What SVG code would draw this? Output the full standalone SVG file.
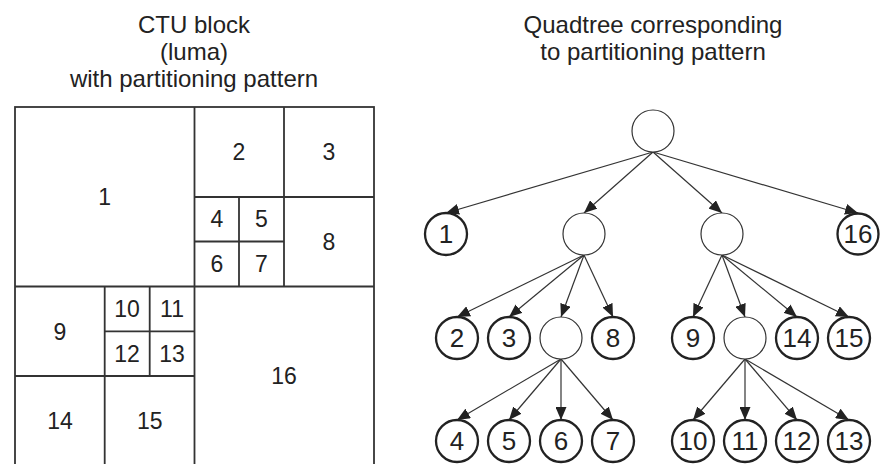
<svg xmlns="http://www.w3.org/2000/svg" width="880" height="464" viewBox="0 0 880 464">
  <style>
    .title { font-family: "Liberation Sans", Arial, sans-serif; font-size: 24px; fill: #222; text-anchor: middle; }
    .cell { font-family: "Liberation Sans", Arial, sans-serif; font-size: 23px; fill: #222; text-anchor: middle; }
    .grid { fill: none; stroke: #333; stroke-width: 1.8; }
    .leaf circle { fill: #fff; stroke: #222; stroke-width: 2.3; }
    .inner circle { fill: #fff; stroke: #333; stroke-width: 1.2; }
    .leaf text { font-family: "Liberation Sans", Arial, sans-serif; font-size: 26px; fill: #222; text-anchor: middle; }
    .edge { stroke: #333; stroke-width: 1.2; fill: none; marker-end: url(#arrow); }
  </style>
  <defs>
    <marker id="arrow" viewBox="0 0 13 11" refX="13" refY="5.5" markerWidth="13" markerHeight="11" markerUnits="userSpaceOnUse" orient="auto">
      <path d="M0,0 L13,5.5 L0,11 z" fill="#222"/>
    </marker>
  </defs>

  <rect width="880" height="464" fill="#fff"/>

  <!-- Titles -->
  <text class="title" x="194" y="33">CTU block</text>
  <text class="title" x="194" y="60">(luma)</text>
  <text class="title" x="194" y="87">with partitioning pattern</text>
  <text class="title" x="653" y="33">Quadtree corresponding</text>
  <text class="title" x="653" y="60">to partitioning pattern</text>

  <!-- CTU partitioning grid -->
  <g id="ctu-block">
    <rect class="grid" x="15" y="107" width="359" height="359"/>
    <path class="grid" d="M194.5,107 V466 M15,286.5 H374
      M284,107 V286.5 M194.5,197 H374
      M239,197 V286.5 M194.5,241.5 H284
      M104.7,286.5 V466 M15,376 H194.5
      M149.7,286.5 V376 M104.7,331.3 H194.5"/>
    <text class="cell" x="104.7" y="205">1</text>
    <text class="cell" x="239" y="160">2</text>
    <text class="cell" x="329" y="160">3</text>
    <text class="cell" x="217" y="227">4</text>
    <text class="cell" x="261.5" y="227">5</text>
    <text class="cell" x="217" y="272">6</text>
    <text class="cell" x="261.5" y="272">7</text>
    <text class="cell" x="329" y="250">8</text>
    <text class="cell" x="60" y="340">9</text>
    <text class="cell" x="127" y="317">10</text>
    <text class="cell" x="172" y="317">11</text>
    <text class="cell" x="127" y="362">12</text>
    <text class="cell" x="172" y="362">13</text>
    <text class="cell" x="60" y="429">14</text>
    <text class="cell" x="149.7" y="429">15</text>
    <text class="cell" x="284" y="384">16</text>
  </g>

  <!-- Quadtree connectors -->
  <g id="connectors">
    <line class="edge" x1="653" y1="152" x2="446" y2="213"/>
    <line class="edge" x1="653" y1="152" x2="584" y2="213"/>
    <line class="edge" x1="653" y1="152" x2="722" y2="213"/>
    <line class="edge" x1="653" y1="152" x2="858" y2="213"/>

    <line class="edge" x1="584" y1="255" x2="457" y2="317"/>
    <line class="edge" x1="584" y1="255" x2="509" y2="317"/>
    <line class="edge" x1="584" y1="255" x2="561" y2="317"/>
    <line class="edge" x1="584" y1="255" x2="613" y2="317"/>

    <line class="edge" x1="722" y1="255" x2="693" y2="317"/>
    <line class="edge" x1="722" y1="255" x2="745" y2="317"/>
    <line class="edge" x1="722" y1="255" x2="797" y2="317"/>
    <line class="edge" x1="722" y1="255" x2="849" y2="317"/>

    <line class="edge" x1="561" y1="359" x2="457" y2="420"/>
    <line class="edge" x1="561" y1="359" x2="509" y2="420"/>
    <line class="edge" x1="561" y1="359" x2="561" y2="420"/>
    <line class="edge" x1="561" y1="359" x2="613" y2="420"/>

    <line class="edge" x1="745" y1="359" x2="693" y2="420"/>
    <line class="edge" x1="745" y1="359" x2="745" y2="420"/>
    <line class="edge" x1="745" y1="359" x2="797" y2="420"/>
    <line class="edge" x1="745" y1="359" x2="849" y2="420"/>
  </g>

  <!-- Quadtree nodes -->
  <g id="root" class="inner"><circle cx="653" cy="131" r="21"/></g>
  <g id="node-a" class="inner"><circle cx="584" cy="234" r="21"/></g>
  <g id="node-b" class="inner"><circle cx="722" cy="234" r="21"/></g>
  <g id="node-c" class="inner"><circle cx="561" cy="338" r="21"/></g>
  <g id="node-d" class="inner"><circle cx="745" cy="338" r="21"/></g>

  <g id="leaf-1" class="leaf"><circle cx="446" cy="234" r="21"/><text x="446" y="243.3">1</text></g>
  <g id="leaf-16" class="leaf"><circle cx="858" cy="234" r="20.5"/><text x="858" y="243.3">16</text></g>
  <g id="leaf-2" class="leaf"><circle cx="457" cy="338" r="21"/><text x="457" y="347.3">2</text></g>
  <g id="leaf-3" class="leaf"><circle cx="509" cy="338" r="21"/><text x="509" y="347.3">3</text></g>
  <g id="leaf-8" class="leaf"><circle cx="613" cy="338" r="21"/><text x="613" y="347.3">8</text></g>
  <g id="leaf-9" class="leaf"><circle cx="693" cy="338" r="21"/><text x="693" y="347.3">9</text></g>
  <g id="leaf-14" class="leaf"><circle cx="797" cy="338" r="21"/><text x="797" y="347.3">14</text></g>
  <g id="leaf-15" class="leaf"><circle cx="849" cy="338" r="21"/><text x="849" y="347.3">15</text></g>
  <g id="leaf-4" class="leaf"><circle cx="457" cy="441" r="21"/><text x="457" y="450.3">4</text></g>
  <g id="leaf-5" class="leaf"><circle cx="509" cy="441" r="21"/><text x="509" y="450.3">5</text></g>
  <g id="leaf-6" class="leaf"><circle cx="561" cy="441" r="21"/><text x="561" y="450.3">6</text></g>
  <g id="leaf-7" class="leaf"><circle cx="613" cy="441" r="21"/><text x="613" y="450.3">7</text></g>
  <g id="leaf-10" class="leaf"><circle cx="693" cy="441" r="21"/><text x="693" y="450.3">10</text></g>
  <g id="leaf-11" class="leaf"><circle cx="745" cy="441" r="21"/><text x="745" y="450.3">11</text></g>
  <g id="leaf-12" class="leaf"><circle cx="797" cy="441" r="21"/><text x="797" y="450.3">12</text></g>
  <g id="leaf-13" class="leaf"><circle cx="849" cy="441" r="21"/><text x="849" y="450.3">13</text></g>
</svg>
